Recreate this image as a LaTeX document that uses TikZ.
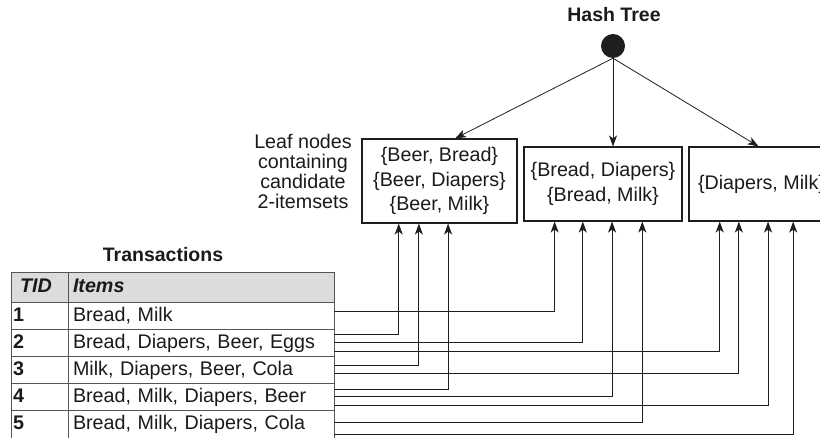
\documentclass[tikz,border=0pt]{standalone}
\usepackage{fontspec}
\setmainfont{Liberation Sans}
\usetikzlibrary{calc,arrows.meta}
\definecolor{txt}{HTML}{1A1A1A}
\definecolor{hdr}{HTML}{DCDCDC}
\definecolor{gridc}{HTML}{555555}
\definecolor{ln}{HTML}{1E1E1E}
\begin{document}
\begin{tikzpicture}[x=1pt,y=-1pt,
  every node/.style={font=\fontsize{19.7}{24.5}\selectfont, text=txt},
  leafbox/.style={draw=ln, line width=1.1pt, align=center, inner sep=0pt},
  cellbase/.style={anchor=north west, outer sep=0pt, draw=gridc, line width=1pt,
     align=left, text height=14pt, text depth=4pt, minimum height=27pt},
  cellnum/.style={cellbase, minimum width=57pt, text width=53pt, inner xsep=2pt},
  cellitem/.style={cellbase, minimum width=266pt, text width=256pt, inner xsep=5pt},
  hdrcell/.style={fill=hdr, minimum height=30pt},
  tip/.style={-{Stealth[length=11pt,width=8pt,inset=3pt]}},
  treearrow/.style={tip, draw=ln, line width=0.8pt},
  conn/.style={tip, draw=ln, line width=1pt},
  title/.style={font=\bfseries\fontsize{19.5}{22}\selectfont}]
\useasboundingbox (0,0) rectangle (820,438);
\clip (0,0) rectangle (820,438);

% hash tree
\node[title] (ht) at (614,15) {Hash Tree};
\node[circle, fill=ln, minimum size=24pt, inner sep=0pt] (root) at (613,46) {};

\node[leafbox, minimum width=155pt, minimum height=84pt] (leaf1) at (439.5,181)
  {\{Beer, Bread\}\\\{Beer, Diapers\}\\\{Beer, Milk\}};
\node[leafbox, minimum width=158pt, minimum height=74pt] (leaf2) at (603,184)
  {\{Bread, Diapers\}\\\{Bread, Milk\}};
\node[leafbox, minimum width=145pt, minimum height=74pt] (leaf3) at (761.5,184)
  {\{Diapers, Milk\}};

\node[align=center, font=\fontsize{19.7}{20}\selectfont, inner sep=0pt] (lbl) at (303,171)
  {Leaf nodes\\containing\\candidate\\2-itemsets};

\draw[treearrow] (root.south) -- ($(leaf1.north west)!0.6!(leaf1.north east)$);
\draw[treearrow] (root.south) -- (root.south |- leaf2.north);
\draw[treearrow] (root.south) -- ($(leaf3.north west)!0.48!(leaf3.north east)$);

% transactions table
\node[title] (ttl) at (163,255) {Transactions};
\node[cellnum, hdrcell] (th1) at (11,273) {\hspace{7pt}\textbf{\textit{TID}}};
\node[cellitem, hdrcell] (th2) at (68,273) {\textbf{\textit{Items}}};
\node[cellnum] (n1) at (11,303) {\textbf{1}};
\node[cellitem] (it1) at (68,303) {Bread, Milk};
\node[cellnum] (n2) at (11,330) {\textbf{2}};
\node[cellitem] (it2) at (68,330) {Bread, Diapers, Beer, Eggs};
\node[cellnum] (n3) at (11,357) {\textbf{3}};
\node[cellitem] (it3) at (68,357) {Milk, Diapers, Beer, Cola};
\node[cellnum] (n4) at (11,384) {\textbf{4}};
\node[cellitem] (it4) at (68,384) {Bread, Milk, Diapers, Beer};
\node[cellnum, minimum height=31pt] (n5) at (11,411) {\raisebox{2pt}{\textbf{5}}};
\node[cellitem, minimum height=31pt] (it5) at (68,411) {\raisebox{2pt}{Bread, Milk, Diapers, Cola}};

% connectors
\draw[conn] ($(it1.north east)!0.333!(it1.south east)$) -| ($(leaf2.south west)!0.196!(leaf2.south east)$);
\draw[conn] ($(it2.north east)!0.185!(it2.south east)$) -| ($(leaf1.south west)!0.239!(leaf1.south east)$);
\draw[conn] ($(it2.north east)!0.481!(it2.south east)$) -| ($(leaf2.south west)!0.373!(leaf2.south east)$);
\draw[conn] ($(it2.north east)!0.778!(it2.south east)$) -| ($(leaf3.south west)!0.214!(leaf3.south east)$);
\draw[conn] ($(it3.north east)!0.333!(it3.south east)$) -| ($(leaf1.south west)!0.368!(leaf1.south east)$);
\draw[conn] ($(it3.north east)!0.593!(it3.south east)$) -| ($(leaf3.south west)!0.345!(leaf3.south east)$);
\draw[conn] ($(it4.north east)!0.222!(it4.south east)$) -| ($(leaf1.south west)!0.555!(leaf1.south east)$);
\draw[conn] ($(it4.north east)!0.481!(it4.south east)$) -| ($(leaf2.south west)!0.557!(leaf2.south east)$);
\draw[conn] ($(it4.north east)!0.778!(it4.south east)$) -| ($(leaf3.south west)!0.545!(leaf3.south east)$);
\draw[conn] ($(it5.north east)!0.387!(it5.south east)$) -| ($(leaf2.south west)!0.747!(leaf2.south east)$);
\draw[conn] ($(it5.north east)!0.742!(it5.south east)$) -| ($(leaf3.south west)!0.717!(leaf3.south east)$);
\end{tikzpicture}
\end{document}
